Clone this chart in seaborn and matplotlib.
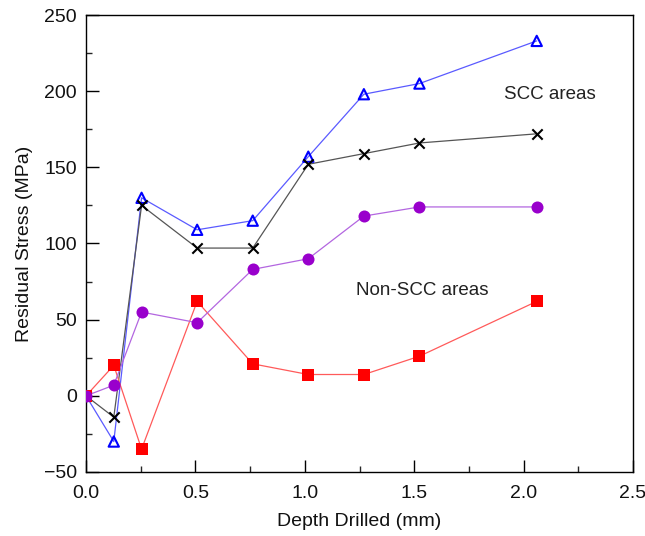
import matplotlib
matplotlib.use("Agg")
import matplotlib.pyplot as plt
from matplotlib.ticker import MultipleLocator, FormatStrFormatter
import seaborn as sns
import pandas as pd

# Depth increments (mm) and residual stress (MPa) for the four drilled holes
depth = [0.0, 0.127, 0.254, 0.508, 0.762, 1.016, 1.27, 1.524, 2.06]
scc_hole_1 = [0, -30, 130, 109, 115, 157, 198, 205, 233]
scc_hole_2 = [0, -14, 125, 97, 97, 152, 159, 166, 172]
non_scc_hole_1 = [0, 20, -35, 62, 21, 14, 14, 26, 62]
non_scc_hole_2 = [0, 7, 55, 48, 83, 90, 118, 124, 124]

series = [
    # values, marker colour, line colour, marker, marker size, filled
    (scc_hole_1, "#0000ff", "#5a5aff", "^", 55, False),
    (scc_hole_2, "#000000", "#555555", "x", 55, False),
    (non_scc_hole_1, "#ff0000", "#ff5a5a", "s", 80, True),
    (non_scc_hole_2, "#9900cc", "#b366e0", "o", 75, True),
]

sns.set_theme(style="white")
plt.rcParams["font.family"] = ["Liberation Sans", "DejaVu Sans"]

fig = plt.figure(figsize=(6.45, 5.36), dpi=100)
ax = fig.add_axes([86 / 645, 1 - 472 / 536, (633 - 86) / 645, (472 - 15) / 536])

for i, (vals, mcol, lcol, mk, ms, filled) in enumerate(series):
    df = pd.DataFrame({"depth": depth, "stress": vals})
    sns.lineplot(data=df, x="depth", y="stress", ax=ax, color=lcol,
                 linewidth=0.9, sort=False, zorder=2 + i)
    if filled:
        sns.scatterplot(data=df, x="depth", y="stress", ax=ax, marker=mk,
                        s=ms, color=mcol, edgecolor=mcol, linewidth=0,
                        zorder=6 + i)
    elif mk == "x":
        sns.scatterplot(data=df, x="depth", y="stress", ax=ax, marker=mk,
                        s=ms, color=mcol, linewidth=1.5, zorder=6 + i)
    else:
        sns.scatterplot(data=df, x="depth", y="stress", ax=ax, marker=mk,
                        s=ms, facecolor="none", edgecolor=mcol,
                        linewidth=1.5, zorder=6 + i)

ax.text(1.91, 198, "SCC areas", fontsize=13.5, color="#222222", va="center", ha="left")
ax.text(1.235, 69, "Non-SCC areas", fontsize=13.5, color="#222222", va="center", ha="left")

ax.set_xlim(0, 2.5)
ax.set_ylim(-50, 250)
ax.xaxis.set_major_locator(MultipleLocator(0.5))
ax.xaxis.set_minor_locator(MultipleLocator(0.25))
ax.yaxis.set_major_locator(MultipleLocator(50))
ax.yaxis.set_minor_locator(MultipleLocator(25))
ax.xaxis.set_major_formatter(FormatStrFormatter("%.1f"))
ax.tick_params(axis="both", which="major", direction="in", length=9, width=1,
               labelsize=14, color="black", labelcolor="#111111",
               bottom=True, left=True, top=False, right=False)
ax.tick_params(axis="x", which="major", pad=9.5)
ax.tick_params(axis="y", which="major", pad=6.5)
ax.tick_params(axis="both", which="minor", direction="in", length=4, width=1,
               bottom=True, left=True, top=False, right=False)
for sp in ax.spines.values():
    sp.set_color("black")
    sp.set_linewidth(1.0)

ax.set_xlabel("Depth Drilled (mm)", fontsize=14, color="#111111", labelpad=8)
ax.set_ylabel("Residual Stress (MPa)", fontsize=14, color="#111111", labelpad=8)

fig.savefig("out.png", dpi=100)
